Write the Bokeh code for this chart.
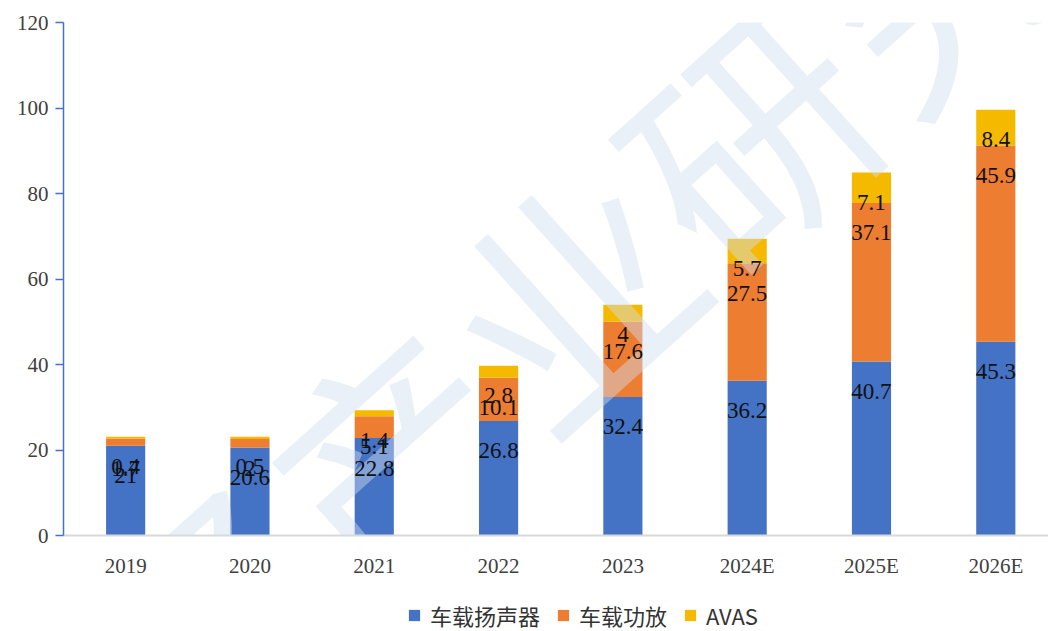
from bokeh.plotting import figure
from bokeh.layouts import column
from bokeh.models import (ColumnDataSource, Range1d, FixedTicker, LabelSet, Legend,
                          LegendItem, Label)
from bokeh.embed import file_html
from bokeh.resources import INLINE
from bokeh.core.properties import value

# ---- data ----
categories = ["2019", "2020", "2021", "2022", "2023", "2024E", "2025E", "2026E"]
speaker = [21, 20.6, 22.8, 26.8, 32.4, 36.2, 40.7, 45.3]      # 车载扬声器
amplifier = [1.7, 2.0, 5.1, 10.1, 17.6, 27.5, 37.1, 45.9]     # 车载功放
avas = [0.4, 0.5, 1.4, 2.8, 4, 5.7, 7.1, 8.4]                 # AVAS
series_names = ["车载扬声器", "车载功放", "AVAS"]
y_ticks = [0, 20, 40, 60, 80, 100, 120]
watermark = "华经产业研究院"

colors = ["#4472C4", "#ED7D31", "#F5BA00"]

n = len(categories)
xs = list(range(n))
t0 = list(speaker)
t1 = [a + b for a, b in zip(speaker, amplifier)]
t2 = [a + b for a, b in zip(t1, avas)]


def fmt(v):
    return f"{v:g}"


src = ColumnDataSource(dict(
    x=xs, b0=[0] * n, t0=t0, t1=t1, t2=t2,
    l0=[fmt(v) for v in speaker], l1=[fmt(v) for v in amplifier], l2=[fmt(v) for v in avas],
))

W = 1048
H_MAIN, H_LEG = 600, 31
p = figure(width=W, height=H_MAIN, output_backend="svg", toolbar_location=None,
           x_range=Range1d(-0.5, 7.424), y_range=Range1d(0, 120),
           min_border_left=63, min_border_right=0, min_border_top=22, min_border_bottom=65)
p.outline_line_color = None
p.xgrid.visible = False
p.ygrid.visible = False
p.background_fill_color = "white"
p.border_fill_color = "white"

bw = 0.315
r0 = p.vbar(x="x", bottom="b0", top="t0", width=bw, source=src, fill_color=colors[0], line_color=None)
r1 = p.vbar(x="x", bottom="t0", top="t1", width=bw, source=src, fill_color=colors[1], line_color=None)
r2 = p.vbar(x="x", bottom="t1", top="t2", width=bw, source=src, fill_color=colors[2], line_color=None)

# watermark (drawn over bars, under labels)
wm = Label(x=3.54, y=57.3, text=watermark, angle=42, angle_units="deg",
           text_font="Noto Sans CJK SC", text_font_size="240px",
           text_color="#D0DEF0", text_alpha=0.45, text_align="center", text_baseline="middle")
p.add_layout(wm)

for top, lab in (("t0", "l0"), ("t1", "l1"), ("t2", "l2")):
    ls = LabelSet(x="x", y=top, text=lab, source=src, y_offset=-30,
                  text_align="center", text_baseline="middle",
                  text_font=value("Liberation Serif"), text_font_size="23px",
                  text_color="#111111")
    p.add_layout(ls)

# y axis
p.yaxis.ticker = FixedTicker(ticks=y_ticks)
p.yaxis.axis_line_color = "#4472C4"
p.yaxis.axis_line_width = 1.5
p.yaxis.major_tick_line_color = "#4472C4"
p.yaxis.major_tick_line_width = 1.5
p.yaxis.major_tick_out = 8
p.yaxis.major_tick_in = 0
p.yaxis.minor_tick_out = 0
p.yaxis.minor_tick_in = 0
p.yaxis.major_label_text_font = "Liberation Serif"
p.yaxis.major_label_text_font_size = "21px"
p.yaxis.major_label_text_color = "#404040"
p.yaxis.major_label_standoff = 7

# x axis
p.xaxis.ticker = FixedTicker(ticks=xs)
p.xaxis.major_label_overrides = {i: c for i, c in zip(xs, categories)}
p.xaxis.axis_line_color = "#D9D9D9"
p.xaxis.axis_line_width = 2
p.xaxis.major_tick_out = 0
p.xaxis.major_tick_in = 0
p.xaxis.minor_tick_out = 0
p.xaxis.minor_tick_in = 0
p.xaxis.major_label_text_font = "Liberation Serif"
p.xaxis.major_label_text_font_size = "21px"
p.xaxis.major_label_text_color = "#404040"
p.xaxis.major_label_standoff = 18

# ---- legend strip ----
pl = figure(width=W, height=H_LEG, output_backend="svg", toolbar_location=None,
            x_range=Range1d(0, 1), y_range=Range1d(0, 1),
            x_axis_location=None, y_axis_location=None, min_border=0)
pl.outline_line_color = None
pl.grid.visible = False
pl.background_fill_color = "white"
pl.border_fill_color = "white"
# swatch renderers: their one bar lies outside the strip's ranges, only the legend glyph shows
swatches = [pl.vbar(x=[-5], bottom=[-5], top=[-4], width=0.1, fill_color=c, line_color=None)
            for c in colors]
legend = Legend(items=[LegendItem(label=nm, renderers=[r]) for nm, r in zip(series_names, swatches)],
                orientation="horizontal", location=(344, 0),
                glyph_width=14, glyph_height=14, label_standoff=9, spacing=16,
                label_text_font="Noto Sans CJK SC", label_text_font_size="22px",
                label_text_color="#333333", padding=0, margin=0,
                border_line_alpha=0, background_fill_alpha=0)
pl.add_layout(legend, "center")

layout = column(p, pl, spacing=0)
open("out.html", "w").write(file_html(layout, INLINE))
